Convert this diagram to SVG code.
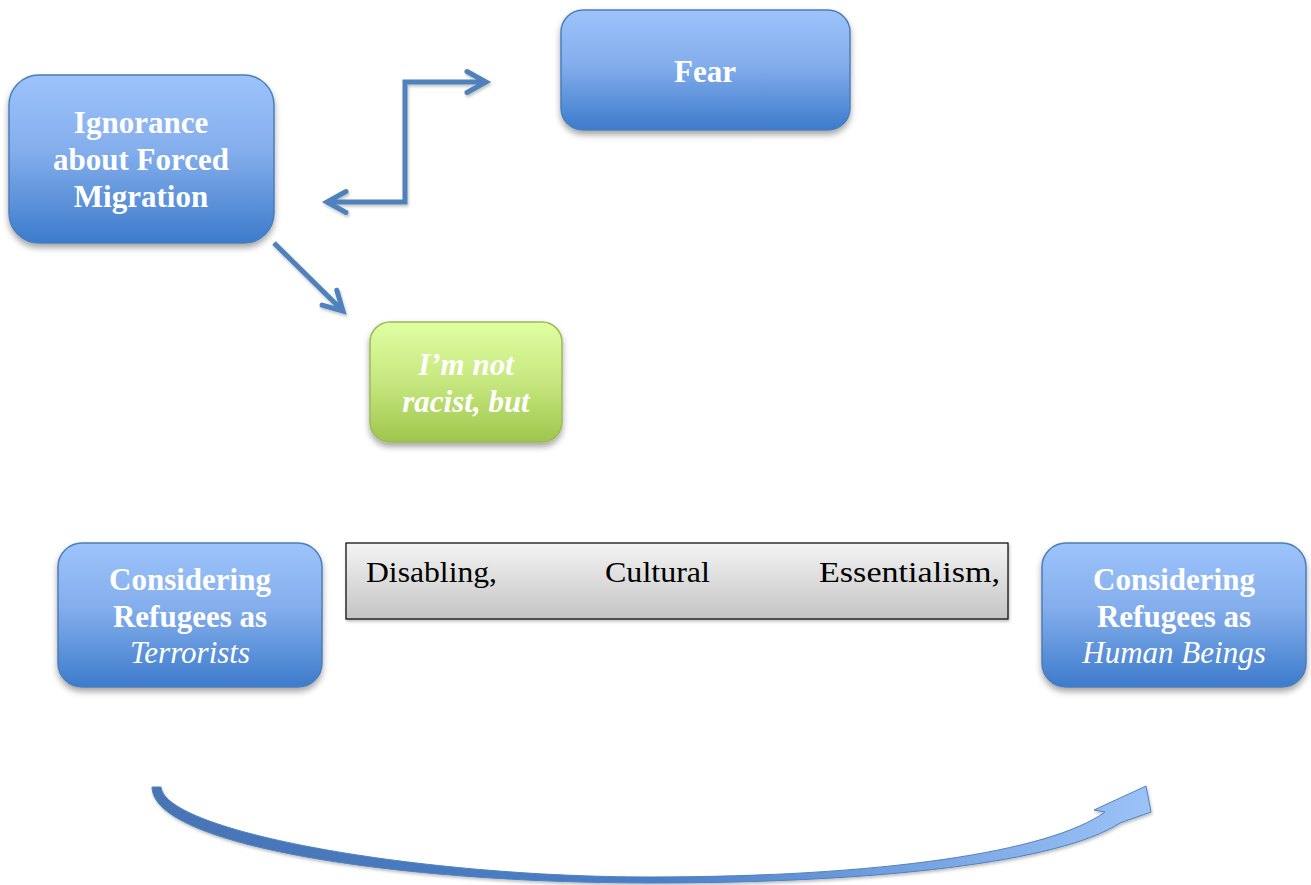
<svg xmlns="http://www.w3.org/2000/svg" width="1311" height="885" viewBox="0 0 1311 885">
  <defs>
    <linearGradient id="blueFill" x1="0" y1="0" x2="0" y2="1">
      <stop offset="0" stop-color="#9dc3fb"/>
      <stop offset="0.45" stop-color="#84aeec"/>
      <stop offset="1" stop-color="#3d7bcb"/>
    </linearGradient>
    <linearGradient id="greenFill" x1="0" y1="0" x2="0" y2="1">
      <stop offset="0" stop-color="#dfffa2"/>
      <stop offset="0.5" stop-color="#c6e77f"/>
      <stop offset="1" stop-color="#9fc64c"/>
    </linearGradient>
    <linearGradient id="grayFill" x1="0" y1="0" x2="0" y2="1">
      <stop offset="0" stop-color="#f4f4f4"/>
      <stop offset="1" stop-color="#c4c4c4"/>
    </linearGradient>
    <linearGradient id="curveFill" x1="150" y1="0" x2="1150" y2="0" gradientUnits="userSpaceOnUse">
      <stop offset="0" stop-color="#4a74b4"/>
      <stop offset="0.5" stop-color="#4a7ec8"/>
      <stop offset="1" stop-color="#9cc3f8"/>
    </linearGradient>
    <filter id="shadow" x="-20%" y="-20%" width="140%" height="150%">
      <feDropShadow dx="0" dy="4" stdDeviation="3" flood-color="#000" flood-opacity="0.35"/>
    </filter>
    <filter id="lineShadow" x="-20%" y="-20%" width="140%" height="140%">
      <feDropShadow dx="1" dy="2" stdDeviation="1.5" flood-color="#000" flood-opacity="0.25"/>
    </filter>
    <marker id="chevron" viewBox="-24 -14 28 28" markerUnits="userSpaceOnUse" markerWidth="28" markerHeight="28" refX="0" refY="0" orient="auto-start-reverse" overflow="visible">
      <path d="M-19,-10.5 L0,0 L-19,10.5" fill="none" stroke="#4f81bd" stroke-width="5" stroke-linecap="round" stroke-linejoin="miter"/>
    </marker>
    <style>
      .node { stroke: #4a7ebb; stroke-width: 1.5; filter: url(#shadow); }
      .blue { fill: url(#blueFill); }
      .green { fill: url(#greenFill); stroke: #9bbb59; }
      .label { font-family: "Liberation Serif", "Times New Roman", serif; font-size: 31px; font-weight: bold; fill: #ffffff; text-anchor: middle; }
      .ital { font-style: italic; font-weight: normal; }
      .boldital { font-style: italic; font-weight: bold; }
      .conn { fill: none; stroke: #4f81bd; stroke-width: 5; marker-end: url(#chevron); filter: url(#lineShadow); }
      .plain { font-family: "Liberation Serif", "Times New Roman", serif; font-size: 30px; fill: #000000; }
    </style>
  </defs>

  <!-- connectors -->
  <g id="connectors">
    <path class="conn" d="M327,202 H405 V82 H486" marker-start="url(#chevron)"/>
    <path class="conn" d="M274,243 L343,311"/>
    <path class="conn" d="M706,155 V510"/>
    <!-- curved block arrow along the bottom -->
    <path d="M152,787 C152,846 400,883 650,883 C880,883 1060,862 1120,823 L1151,812 L1146,786 L1094,810 L1105,812 C1050,852 880,877 650,877 C420,877 165,832 161,787 Z" fill="url(#curveFill)" stroke="#4f81bd" stroke-width="1" filter="url(#lineShadow)"/>
  </g>

  <g id="ignorance">
    <rect class="node blue" x="9" y="75" width="265" height="168" rx="30"/>
    <text class="label" x="141" y="133">Ignorance</text>
    <text class="label" x="141" y="170">about Forced</text>
    <text class="label" x="141" y="207">Migration</text>
  </g>

  <g id="fear">
    <rect class="node blue" x="561" y="10" width="289" height="120" rx="22"/>
    <text class="label" x="705" y="82">Fear</text>
  </g>

  <g id="not-racist">
    <rect class="node green" x="370" y="322" width="192" height="120" rx="20"/>
    <text class="label boldital" x="466" y="375">I’m not</text>
    <text class="label boldital" x="466" y="412">racist, but</text>
  </g>

  <g id="terrorists">
    <rect class="node blue" x="58" y="543" width="264" height="144" rx="24"/>
    <text class="label" x="190" y="590">Considering</text>
    <text class="label" x="190" y="627">Refugees as</text>
    <text class="label ital" x="190" y="663">Terrorists</text>
  </g>

  <g id="human-beings">
    <rect class="node blue" x="1042" y="543" width="264" height="144" rx="24"/>
    <text class="label" x="1174" y="590">Considering</text>
    <text class="label" x="1174" y="627">Refugees as</text>
    <text class="label ital" x="1174" y="663">Human Beings</text>
  </g>

  <g id="disabling">
    <rect x="346" y="543" width="662" height="76" fill="url(#grayFill)" stroke="#000000" stroke-width="1.2" filter="url(#lineShadow)"/>
    <text class="plain" x="366" y="582" textLength="131" lengthAdjust="spacingAndGlyphs">Disabling,</text>
    <text class="plain" x="605" y="582" textLength="105" lengthAdjust="spacingAndGlyphs">Cultural</text>
    <text class="plain" x="819" y="582" textLength="181" lengthAdjust="spacingAndGlyphs">Essentialism,</text>
  </g>
</svg>
